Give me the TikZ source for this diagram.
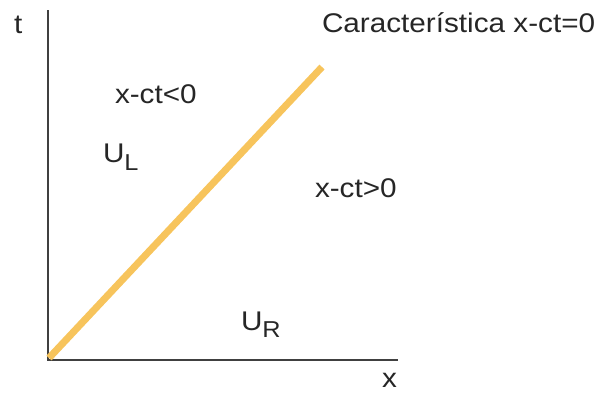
\documentclass[tikz,border=0pt]{standalone}
\usepackage{fontspec}
\usepackage{graphicx}
\setmainfont{Liberation Sans}
\definecolor{axisgray}{RGB}{64,64,64}
\definecolor{charorange}{RGB}{247,196,92}
\newcommand{\lbl}[1]{\scalebox{1.1}[1]{\fontsize{27}{30}\selectfont #1}}
\begin{document}
\begin{tikzpicture}[x=1pt,y=-1pt,
  axisline/.style={draw=axisgray,line width=2pt},
  charline/.style={draw=charorange,line width=7pt},
  txt/.style={anchor=base west,inner sep=0pt,outer sep=0pt,text=black!85}]
\useasboundingbox (0,0) rectangle (605,394);
\coordinate (O) at (47.5,360);
\coordinate (T) at (47.5,10);
\coordinate (X) at (398,360);
\coordinate (C) at (322,67);
\draw[axisline] (T) -- (O) -- (X);
\draw[charline] (49,358) -- (C);
\node[txt] (tl) at (14,33) {\lbl{t}};
\node[txt] (xl) at (382,387) {\lbl{x}};
\node[txt] (car) at (322,32) {\lbl{Característica x-ct=0}};
\node[txt] (neg) at (115,103) {\lbl{x-ct<0}};
\node[txt] (pos) at (315,197) {\lbl{x-ct>0}};
\node[txt] (ul) at (103,162) {\lbl{U\raisebox{-8pt}{\fontsize{23}{25}\selectfont L}}};
\node[txt] (ur) at (241,330) {\lbl{U\raisebox{-7pt}{\fontsize{23}{25}\selectfont R}}};
\end{tikzpicture}
\end{document}
